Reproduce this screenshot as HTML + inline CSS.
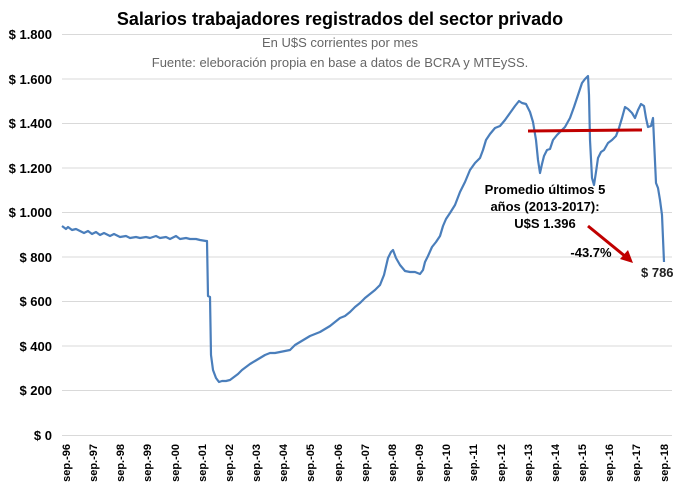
<!DOCTYPE html>
<html><head><meta charset="utf-8"><style>
body{margin:0;background:#fff}
svg{display:block;font-family:"Liberation Sans",sans-serif}
</style></head><body>
<svg width="680" height="492" viewBox="0 0 680 492">
<text x="340" y="25" text-anchor="middle" font-size="18" font-weight="bold" fill="#000">Salarios trabajadores registrados del sector privado</text>
<text x="340" y="47" text-anchor="middle" font-size="13" fill="#666">En U$S corrientes por mes</text>
<text x="340" y="67" text-anchor="middle" font-size="13" fill="#666">Fuente: eleboración propia en base a datos de BCRA y MTEySS.</text>
<g stroke="#d9d9d9" stroke-width="1">
<line x1="62" x2="672" y1="34.5" y2="34.5"/><line x1="62" x2="672" y1="79" y2="79"/><line x1="62" x2="672" y1="123.5" y2="123.5"/><line x1="62" x2="672" y1="168" y2="168"/><line x1="62" x2="672" y1="212.5" y2="212.5"/><line x1="62" x2="672" y1="257" y2="257"/><line x1="62" x2="672" y1="301.5" y2="301.5"/><line x1="62" x2="672" y1="346" y2="346"/><line x1="62" x2="672" y1="390.5" y2="390.5"/><line x1="62" x2="672" y1="435.5" y2="435.5"/>
</g>
<g font-size="13" font-weight="bold" text-anchor="end" fill="#000">
<text x="52" y="39">$ 1.800</text><text x="52" y="84">$ 1.600</text><text x="52" y="128">$ 1.400</text><text x="52" y="173">$ 1.200</text><text x="52" y="217">$ 1.000</text><text x="52" y="262">$ 800</text><text x="52" y="306">$ 600</text><text x="52" y="351">$ 400</text><text x="52" y="395">$ 200</text><text x="52" y="440">$ 0</text>
</g>
<g font-size="11" font-weight="bold" text-anchor="end" fill="#000">
<text transform="translate(70,444) rotate(-90)">sep.-96</text><text transform="translate(97,444) rotate(-90)">sep.-97</text><text transform="translate(124,444) rotate(-90)">sep.-98</text><text transform="translate(151,444) rotate(-90)">sep.-99</text><text transform="translate(179,444) rotate(-90)">sep.-00</text><text transform="translate(206,444) rotate(-90)">sep.-01</text><text transform="translate(233,444) rotate(-90)">sep.-02</text><text transform="translate(260,444) rotate(-90)">sep.-03</text><text transform="translate(287,444) rotate(-90)">sep.-04</text><text transform="translate(314,444) rotate(-90)">sep.-05</text><text transform="translate(342,444) rotate(-90)">sep.-06</text><text transform="translate(369,444) rotate(-90)">sep.-07</text><text transform="translate(396,444) rotate(-90)">sep.-08</text><text transform="translate(423,444) rotate(-90)">sep.-09</text><text transform="translate(450,444) rotate(-90)">sep.-10</text><text transform="translate(477,444) rotate(-90)">sep.-11</text><text transform="translate(505,444) rotate(-90)">sep.-12</text><text transform="translate(532,444) rotate(-90)">sep.-13</text><text transform="translate(559,444) rotate(-90)">sep.-14</text><text transform="translate(586,444) rotate(-90)">sep.-15</text><text transform="translate(613,444) rotate(-90)">sep.-16</text><text transform="translate(640,444) rotate(-90)">sep.-17</text><text transform="translate(668,444) rotate(-90)">sep.-18</text>
</g>
<polyline fill="none" stroke="#4a7ebb" stroke-width="2.2" stroke-linejoin="round" points="62,226 66,229 68,227 72,230 76,229 80,231 84,233 88,231 92,234 96,232 100,235 104,233 110,236 114,234 120,237 126,236 130,238 136,237 140,238 146,237 150,238 156,236 160,238 166,237 170,239 176,236 180,239 186,238 190,239 196,239 200,240 206,241 207,241 208,296 210,297 211,355 213,370 216,378 219,382 222,381 226,381 230,380 234,377 238,374 242,370 246,367 250,364 255,361 260,358 265,355 270,353 275,353 280,352 285,351 290,350 295,345 300,342 305,339 310,336 315,334 320,332 325,329 330,326 335,322 340,318 345,316 350,312 355,307 360,303 365,298 370,294 375,290 380,285 384,275 388,258 391,252 393,250 396,258 400,265 405,271 410,272 415,272 420,274 423,270 425,262 428,256 432,247 436,242 440,236 443,226 446,219 450,213 455,205 460,192 465,182 470,170 475,163 480,158 483,150 486,140 490,134 495,128 500,126 505,120 510,113 515,106 519,101 522,103 526,104 530,112 533,122 536,140 538,160 540,173 542,164 544,156 547,150 550,149 553,140 557,135 560,132 565,127 570,118 574,107 578,95 582,83 585,79 588,76 589,95 590,140 592,178 594,185 596,172 598,158 601,152 604,150 608,143 612,140 616,136 619,128 622,118 625,107 628,109 632,113 635,118 638,110 641,104 644,106 646,118 648,127 651,126 653,118 654,140 656,183 658,188 660,200 662,215 664,262"/>
<line x1="528" y1="131" x2="642" y2="130" stroke="#c00000" stroke-width="3"/>
<line x1="588" y1="226" x2="626" y2="257" stroke="#c00000" stroke-width="3"/>
<polygon points="633,263 620,259 628,250" fill="#c00000"/>
<g font-size="13" font-weight="bold" text-anchor="middle" fill="#000">
<text x="545" y="194">Promedio últimos 5</text>
<text x="545" y="211">años (2013-2017):</text>
<text x="545" y="228">U$S 1.396</text>
</g>
<text x="591" y="257" font-size="13" font-weight="bold" text-anchor="middle">-43.7%</text>
<text x="641" y="277" font-size="13" font-weight="bold" fill="#222">$ 786</text>
</svg>
</body></html>
